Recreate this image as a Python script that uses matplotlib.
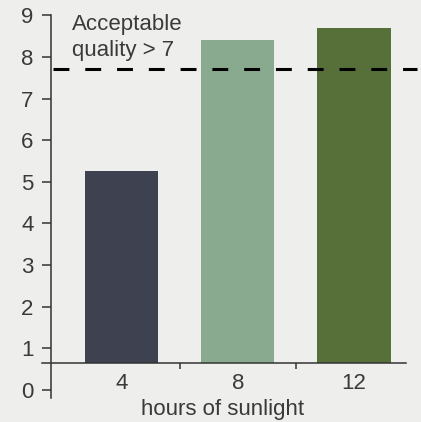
import matplotlib
matplotlib.use("Agg")
import matplotlib.pyplot as plt

# data
hours = ["4", "8", "12"]
quality = [5.25, 8.4, 8.7]
bar_colors = ["#3e4150", "#8aaa90", "#57703a"]
threshold = 7.7
baseline = 0.64
yticks = [0, 1, 2, 3, 4, 5, 6, 7, 8, 9]

plt.rcParams["font.family"] = ["Liberation Sans", "DejaVu Sans"]
text_color = "#3a3a3a"
bg = "#eeeeec"

fig = plt.figure(figsize=(4.21, 4.22), dpi=100, facecolor=bg)
ax = fig.add_axes([51 / 421, 1 - 398 / 422, 370 / 421, 398 / 422])
ax.set_facecolor(bg)

x = list(range(len(hours)))
ax.bar(x, [q - baseline for q in quality], bottom=baseline, width=0.63,
       color=bar_colors, zorder=2)

line = ax.axhline(threshold, xmin=0.005, xmax=0.99, color="black", lw=2.2, zorder=3)
line.set_dashes((5.2, 5.2))

ax.text(-0.43, 9.04, "Acceptable\nquality > 7", va="top", ha="left",
        fontsize=16, color=text_color, linespacing=1.3)

ax.set_xlim(-0.6065, 2.5763)
ax.set_ylim(-0.2, 9.37)

for s in ["top", "right"]:
    ax.spines[s].set_visible(False)
ax.spines["left"].set_bounds(-0.2, 9)
ax.spines["bottom"].set_position(("data", baseline))
ax.spines["bottom"].set_bounds(-0.684, 2.447)
for s in ["left", "bottom"]:
    ax.spines[s].set_color("#333333")
    ax.spines[s].set_linewidth(1.1)

ax.set_yticks(yticks)
ax.tick_params(axis="y", direction="out", length=6.5, width=1.1, color="#333333",
               labelsize=16, labelcolor=text_color, pad=6)
ax.set_xticks(x)
ax.set_xticklabels(hours)
ax.set_xticks([0.5, 1.5], minor=True)
ax.tick_params(axis="x", which="major", length=0, pad=7.5, labelsize=16,
               labelcolor=text_color)
ax.tick_params(axis="x", which="minor", direction="out", length=4, width=1.1,
               color="#333333")
ax.set_xlabel("hours of sunlight", fontsize=16, color=text_color, va="center")
ax.xaxis.set_label_coords(0.465, -0.03)

fig.savefig("out.png", dpi=100, facecolor=bg)
